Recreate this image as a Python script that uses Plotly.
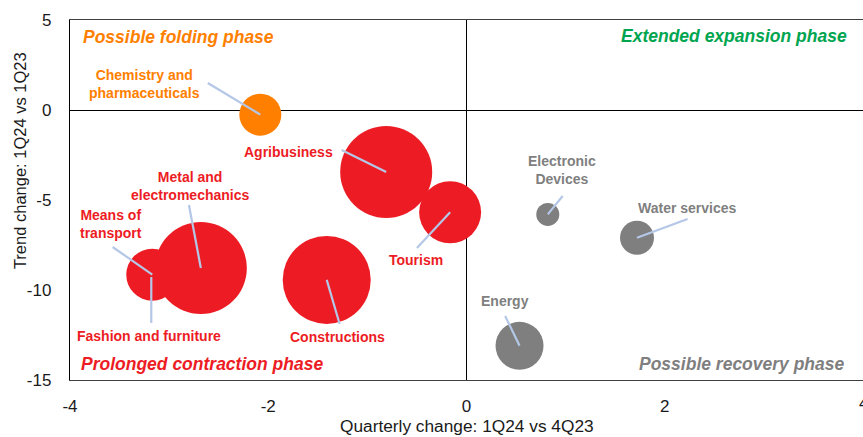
import plotly.graph_objects as go

# ---- data ----
sectors = ["Fashion and furniture", "Chemistry and pharmaceuticals", "Agribusiness", "Tourism",
           "Metal and electromechanics", "Means of transport", "Constructions",
           "Electronic Devices", "Water services", "Energy"]
quarterly_change = [-3.18, -2.08, -0.81, -0.165, -2.68, -3.17, -1.41, 0.82, 1.72, 0.535]
trend_change = [-9.28, -0.26, -3.44, -5.68, -8.78, -9.15, -9.44, -5.8, -7.1, -13.1]
bubble_size = [40, 42, 92, 62, 92, 52, 88, 23, 34, 48]
phase_group = ["contraction", "folding", "contraction", "contraction", "contraction",
               "contraction", "contraction", "recovery", "recovery", "recovery"]

label_text = ["Fashion and furniture", "Chemistry and<br>pharmaceuticals", "Agribusiness", "Tourism",
              "Metal and<br>electromechanics", "Means of<br>transport", "Constructions",
              "Electronic<br>Devices", "Water services", "Energy"]
label_x = [-3.20, -3.25, -1.80, -0.51, -2.79, -3.59, -1.30, 0.965, 2.23, 0.386]
label_y = [-12.56, 1.44, -2.33, -8.33, -4.22, -6.33, -12.61, -3.36, -5.44, -10.6]
leader_x = [-3.18, -2.61, -1.26, -0.50, -2.80, -3.57, -1.28, 0.97, 2.23, 0.39]
leader_y = [-11.83, 1.5, -2.22, -7.67, -5.28, -7.61, -11.89, -4.78, -6.06, -11.44]

phase_names = ["Possible folding phase", "Extended expansion phase",
               "Prolonged contraction phase", "Possible recovery phase"]
phase_x = [-3.89, 3.86, -3.91, 3.84]
phase_y = [4.05, 4.1, -14.1, -14.1]
phase_anchor = ["left", "right", "left", "right"]
phase_key = ["folding", "expansion", "contraction", "recovery"]

x_ticks = [-4, -2, 0, 2, 4]
x_tick_labels = ["-4", "-2", "0", "2", "4"]
y_ticks = [-15, -10, -5, 0, 5]
y_tick_labels = ["-15", "-10", "-5", "0", "5"]

colors = {"folding": "#FF8000", "expansion": "#00A550", "contraction": "#ED1C24", "recovery": "#7F7F7F"}
FONT = "Arial, Liberation Sans, sans-serif"

fig = go.Figure()

# bubbles
fig.add_trace(go.Scatter(
    x=quarterly_change, y=trend_change, mode="markers",
    marker=dict(size=bubble_size, sizemode="diameter",
                color=[colors[g] for g in phase_group], opacity=1, line=dict(width=0)),
    hoverinfo="text", text=sectors, showlegend=False))

# leader lines
lx, ly = [], []
for cx, cy, ex, ey in zip(quarterly_change, trend_change, leader_x, leader_y):
    lx += [cx, ex, None]
    ly += [cy, ey, None]
fig.add_trace(go.Scatter(x=lx, y=ly, mode="lines", line=dict(color="#B4C7E7", width=2.2),
                         hoverinfo="skip", showlegend=False))

annotations = []
for t, x, y, g in zip(label_text, label_x, label_y, phase_group):
    annotations.append(dict(x=x, y=y, text="<b>" + t + "</b>", showarrow=False,
                            font=dict(family=FONT, size=14, color=colors[g]),
                            xanchor="center", yanchor="middle"))
for t, x, y, a, k in zip(phase_names, phase_x, phase_y, phase_anchor, phase_key):
    annotations.append(dict(x=x, y=y, text="<b><i>" + t + "</i></b>", showarrow=False,
                            font=dict(family=FONT, size=17.5, color=colors[k]),
                            xanchor=a, yanchor="middle"))
# x tick label at the right edge (partly cut, as in the original)
annotations.append(dict(xref="paper", yref="paper", x=1, y=0, yshift=-23,
                        text=x_tick_labels[-1], showarrow=False, xanchor="center", yanchor="middle",
                        font=dict(family=FONT, size=17, color="#1a1a1a")))
# axis titles
annotations.append(dict(xref="paper", yref="paper", x=0.5, y=0, yshift=-46,
                        text="Quarterly change: 1Q24 vs 4Q23", showarrow=False,
                        font=dict(family=FONT, size=17.3, color="#1a1a1a"),
                        xanchor="center", yanchor="middle"))
annotations.append(dict(xref="paper", yref="paper", x=0, xshift=-50, y=0.608,
                        text="Trend change: 1Q24 vs 1Q23", showarrow=False, textangle=-90,
                        font=dict(family=FONT, size=16.5, color="#1a1a1a"),
                        xanchor="center", yanchor="middle"))

fig.update_layout(
    width=863, height=437,
    margin=dict(l=70, r=0, t=20, b=57),
    paper_bgcolor="white", plot_bgcolor="white",
    annotations=annotations,
    xaxis=dict(range=[-4, 4], tickvals=x_ticks[:-1], ticktext=x_tick_labels[:-1], showgrid=False,
               zeroline=True, zerolinecolor="black", zerolinewidth=1.3,
               showline=True, linecolor="#404040", linewidth=1.3, mirror=True,
               ticks="", ticklabelstandoff=10,
               tickfont=dict(family=FONT, size=17, color="#1a1a1a")),
    yaxis=dict(range=[-15, 5], tickvals=y_ticks, ticktext=y_tick_labels, showgrid=False,
               zeroline=True, zerolinecolor="black", zerolinewidth=1.3,
               showline=True, linecolor="black", linewidth=1.3, mirror=True,
               ticks="", ticklabelstandoff=14,
               tickfont=dict(family=FONT, size=17, color="#1a1a1a")),
)

fig.write_html("out.html")
